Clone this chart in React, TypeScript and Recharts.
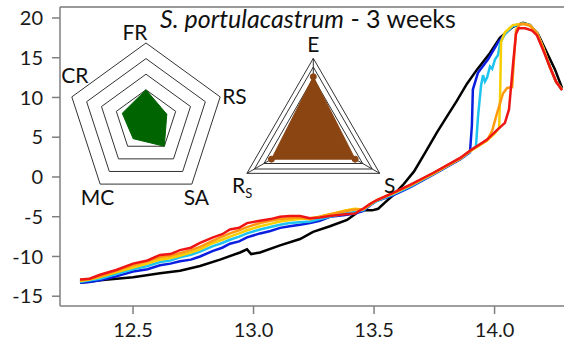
import React from 'react';
import {
  LineChart,
  Line,
  XAxis,
  YAxis,
  ReferenceLine,
  RadarChart,
  Radar,
  PolarGrid,
  PolarAngleAxis,
  PolarRadiusAxis,
} from 'recharts';

// x positions shared by the coloured curves before they split apart
const sharedX = [12.28, 12.32, 12.363, 12.43, 12.5, 12.56, 12.612, 12.655, 12.695, 12.74, 12.778, 12.832, 12.87,
  12.902, 12.94, 12.973, 13.027, 13.07, 13.11, 13.15, 13.193, 13.234, 13.275, 13.317, 13.38, 13.42, 13.454,
  13.483, 13.512, 13.579, 13.649, 13.745, 13.857, 13.898];

const blueY = [-13.3, -13.2, -13.0, -12.5, -11.9, -11.6, -11.1, -10.9, -10.6, -10.4, -10.0, -9.3, -8.9,
  -8.4, -8.1, -7.6, -7.1, -6.8, -6.4, -6.2, -6.0, -5.8, -5.5, -5.0, -4.8, -4.6, -4.3,
  -3.6, -3.0, -2.3, -1.3, 0.3, 2.2, 3.1];
const cyanY = [-13.2, -13.0, -12.8, -12.2, -11.6, -11.2, -10.7, -10.5, -10.1, -9.8, -9.4, -8.7, -8.3,
  -7.9, -7.5, -7.1, -6.6, -6.3, -6.0, -5.8, -5.7, -5.6, -5.3, -5.0, -4.6, -4.4, -4.2,
  -3.5, -3.0, -2.2, -1.2, 0.4, 2.3, 3.2];
const yellowY = [-13.1, -12.9, -12.6, -12.0, -11.4, -10.9, -10.4, -10.2, -9.9, -9.5, -9.1, -8.3, -7.9,
  -7.5, -7.1, -6.7, -6.2, -5.9, -5.6, -5.4, -5.3, -5.2, -5.0, -4.7, -4.2, -4.0, -4.1,
  -3.5, -2.9, -2.1, -1.1, 0.4, 2.3, 3.2];
const orangeY = [-13.0, -12.8, -12.5, -11.8, -11.1, -10.6, -10.1, -9.9, -9.6, -9.2, -8.8, -8.0, -7.5,
  -7.1, -6.7, -6.3, -5.8, -5.5, -5.3, -5.2, -5.1, -5.3, -5.0, -4.7, -4.3, -4.1, -4.1,
  -3.4, -2.9, -2.0, -1.1, 0.5, 2.3, 3.3];
const redY = [-12.9, -12.8, -12.3, -11.7, -10.9, -10.5, -9.8, -9.7, -9.2, -8.9, -8.3, -7.6, -7.2,
  -6.6, -6.4, -5.8, -5.5, -5.3, -5.0, -4.9, -4.9, -5.2, -5.1, -4.9, -4.7, -4.6, -4.0,
  -3.4, -2.9, -2.0, -1.0, 0.5, 2.4, 3.3];

// the part of each curve after it leaves the common trunk
const blueTailX = [13.906, 13.91, 13.931, 13.973, 14.014, 14.043, 14.076, 14.118, 14.147, 14.176, 14.201, 14.23, 14.255, 14.28];
const blueTailY = [6.5, 11.0, 13.1, 14.8, 16.9, 18.0, 19.0, 19.3, 19.1, 18.1, 16.3, 13.8, 12.0, 11.0];
const cyanTailX = [13.923, 13.931, 13.944, 13.952, 13.96, 13.969, 13.981, 13.99, 14.002, 14.014, 14.023, 14.043, 14.076,
  14.118, 14.147, 14.176, 14.201, 14.23, 14.255, 14.28];
const cyanTailY = [3.9, 7.5, 11.5, 12.8, 12.0, 12.5, 13.9, 13.6, 14.8, 15.3, 16.8, 18.0, 19.0,
  19.3, 19.1, 18.1, 16.3, 13.8, 12.0, 11.0];
const yellowTailX = [13.969, 14.002, 14.019, 14.023, 14.027, 14.043, 14.076, 14.118, 14.147, 14.176, 14.201, 14.23, 14.255, 14.28];
const yellowTailY = [4.6, 5.5, 6.2, 10.0, 17.0, 18.2, 19.1, 19.3, 19.1, 18.1, 16.3, 13.8, 12.0, 11.0];
const orangeTailX = [13.969, 13.99, 14.01, 14.035, 14.052, 14.073, 14.081, 14.089, 14.106, 14.127, 14.147, 14.176, 14.201,
  14.23, 14.255, 14.28];
const orangeTailY = [4.6, 5.8, 8.0, 10.5, 11.2, 11.3, 15.0, 18.5, 19.2, 19.2, 19.0, 18.1, 16.3, 13.8, 12.0, 11.0];
const redTailX = [13.969, 14.01, 14.043, 14.06, 14.076, 14.089, 14.1, 14.127, 14.156, 14.176, 14.201, 14.23, 14.255, 14.28];
const redTailY = [4.7, 5.9, 6.8, 8.5, 14.0, 18.0, 18.7, 18.7, 18.4, 17.8, 16.0, 13.8, 12.0, 10.9];

const blackX = [12.28, 12.363, 12.5, 12.612, 12.695, 12.778, 12.861, 12.944, 12.973, 12.99, 13.027, 13.11, 13.193,
  13.247, 13.317, 13.388, 13.434, 13.45, 13.492, 13.517, 13.546, 13.579, 13.62, 13.666, 13.711, 13.761, 13.802,
  13.844, 13.885, 13.927, 13.981, 14.022, 14.076, 14.118, 14.147, 14.18, 14.218, 14.251, 14.28];
const blackY = [-13.3, -13.0, -12.6, -12.1, -11.8, -11.2, -10.4, -9.5, -9.1, -9.7, -9.5, -8.6, -7.8,
  -6.9, -6.2, -5.4, -4.4, -4.2, -4.2, -4.0, -3.2, -2.3, -1.0, 0.7, 3.0, 5.6, 7.6,
  9.6, 11.7, 13.5, 15.6, 17.5, 18.9, 19.4, 19.1, 18.0, 15.6, 13.5, 11.2];

const xTicks = [12.5, 13.0, 13.5, 14.0];
const yTicks = [-15, -10, -5, 0, 5, 10, 15, 20];

// inset radar charts
const pentaAxes = ['FR', 'RS', 'SA', 'MC', 'CR'];
const pentaValues = [2.0, 1.4, 2.0, 1.4, 1.6];
const triAxes = ['E', 'S', 'Rs'];
const triValues = [0.76, 0.63, 0.63];

const toPoints = (xs: number[], ys: number[]) => xs.map((x, i) => ({ x, y: ys[i] }));

const series = [
  { name: 'black', color: '#000000', data: toPoints(blackX, blackY) },
  { name: 'blue', color: '#0a1ee0', data: [...toPoints(sharedX, blueY), ...toPoints(blueTailX, blueTailY)] },
  { name: 'cyan', color: '#1ec3f0', data: [...toPoints(sharedX, cyanY), ...toPoints(cyanTailX, cyanTailY)] },
  { name: 'yellow', color: '#f7cf00', data: [...toPoints(sharedX, yellowY), ...toPoints(yellowTailX, yellowTailY)] },
  { name: 'orange', color: '#ff9a10', data: [...toPoints(sharedX, orangeY), ...toPoints(orangeTailX, orangeTailY)] },
  { name: 'red', color: '#ee1515', data: [...toPoints(sharedX, redY), ...toPoints(redTailX, redTailY)] },
];

const pentaData = pentaAxes.map((axis, i) => ({ axis, value: pentaValues[i] }));
const triData = triAxes.map((axis, i) => ({ axis, value: triValues[i] }));

const FONT = 'Lato, "Open Sans", sans-serif';

const pentaOffsets: Record<string, { dx: number; dy: number; anchor: string }> = {
  FR: { dx: -11, dy: -2, anchor: 'middle' },
  RS: { dx: 1, dy: 7, anchor: 'start' },
  SA: { dx: 4, dy: 20, anchor: 'middle' },
  MC: { dx: -2, dy: 20, anchor: 'middle' },
  CR: { dx: 4, dy: -14, anchor: 'middle' },
};

const triOffsets: Record<string, { dx: number; dy: number; anchor: string }> = {
  E: { dx: 0, dy: -5, anchor: 'middle' },
  S: { dx: 9, dy: 19, anchor: 'middle' },
  Rs: { dx: -14, dy: 19, anchor: 'start' },
};

function PentaTick(props: any) {
  const { x, y, payload } = props;
  const o = pentaOffsets[payload.value];
  return (
    <text x={x + o.dx} y={y + o.dy} textAnchor={o.anchor} fontSize={21} fill="#111" fontFamily={FONT}>
      {payload.value}
    </text>
  );
}

function TriTick(props: any) {
  const { x, y, payload } = props;
  const o = triOffsets[payload.value];
  if (payload.value === 'Rs') {
    return (
      <text x={x + o.dx} y={y + o.dy} textAnchor={o.anchor} fontSize={21} fill="#111" fontFamily={FONT}>
        R<tspan fontSize={13} dy={5}>S</tspan>
      </text>
    );
  }
  return (
    <text x={x + o.dx} y={y + o.dy} textAnchor={o.anchor} fontSize={21} fill="#111" fontFamily={FONT}>
      {payload.value}
    </text>
  );
}

export default function App() {
  return (
    <div
      style={{
        position: 'fixed',
        left: 0,
        top: 0,
        width: 564,
        height: 347,
        overflow: 'hidden',
        background: '#fff',
        fontFamily: FONT,
      }}
    >
      <LineChart width={570} height={347} margin={{ top: 7, right: 0, bottom: 0, left: 0 }}>
        <XAxis
          type="number"
          dataKey="x"
          domain={[12.197, 14.313]}
          ticks={xTicks}
          tickFormatter={(v: number) => v.toFixed(1)}
          allowDataOverflow
          height={41}
          tickSize={8}
          tickMargin={9}
          stroke="#7f7f7f"
          strokeWidth={1.5}
          tick={{ fill: '#1a1a1a', fontSize: 20 }}
        />
        <YAxis
          type="number"
          dataKey="y"
          domain={[-16.23, 21.38]}
          ticks={yTicks}
          allowDataOverflow
          width={60}
          tickSize={8}
          tickMargin={9}
          stroke="#7f7f7f"
          strokeWidth={1.5}
          tick={{ fill: '#1a1a1a', fontSize: 20 }}
        />
        <ReferenceLine y={21.38} stroke="#999" strokeWidth={2} />
        {series.map((s) => (
          <Line
            key={s.name}
            data={s.data}
            dataKey="y"
            type="linear"
            stroke={s.color}
            strokeWidth={2.5}
            dot={false}
            isAnimationActive={false}
          />
        ))}
      </LineChart>

      <div style={{ position: 'absolute', left: 0, top: 0 }}>
        <RadarChart
          width={270}
          height={220}
          cx={146}
          cy={121}
          outerRadius={78}
          data={pentaData}
          margin={{ top: 0, right: 0, bottom: 0, left: 0 }}
        >
          <PolarGrid gridType="polygon" radialLines={false} polarRadius={[15.6, 31.2, 46.8, 62.4, 78]} stroke="#333" />
          <PolarAngleAxis dataKey="axis" tick={<PentaTick />} tickLine={false} axisLine={false} tickSize={1} />
          <PolarRadiusAxis domain={[0, 5]} tick={false} axisLine={false} />
          <Radar dataKey="value" stroke="#006400" fill="#006400" fillOpacity={1} isAnimationActive={false} />
        </RadarChart>
      </div>

      <div style={{ position: 'absolute', left: 200, top: 0 }}>
        <RadarChart
          width={230}
          height={220}
          cx={113.3}
          cy={135}
          outerRadius={76.7}
          data={triData}
          margin={{ top: 0, right: 0, bottom: 0, left: 0 }}
        >
          <PolarGrid gridType="polygon" radialLines polarRadius={[57, 68, 76.7]} stroke="#333" />
          <PolarAngleAxis dataKey="axis" tick={<TriTick />} tickLine={false} axisLine={false} tickSize={1} />
          <PolarRadiusAxis domain={[0, 1]} tick={false} axisLine={false} />
          <Radar
            dataKey="value"
            stroke="#8b4513"
            fill="#8b4513"
            fillOpacity={1}
            dot={{ r: 3, fill: '#8b4513', stroke: '#8b4513' }}
            isAnimationActive={false}
          />
        </RadarChart>
      </div>

      <svg width={564} height={347} style={{ position: 'absolute', left: 0, top: 0, pointerEvents: 'none' }}>
        <text x={308} y={28} textAnchor="middle" fontSize={25} fill="#111" fontFamily={FONT}>
          <tspan fontStyle="italic">S. portulacastrum</tspan>
          <tspan> - 3 weeks</tspan>
        </text>
      </svg>
    </div>
  );
}
